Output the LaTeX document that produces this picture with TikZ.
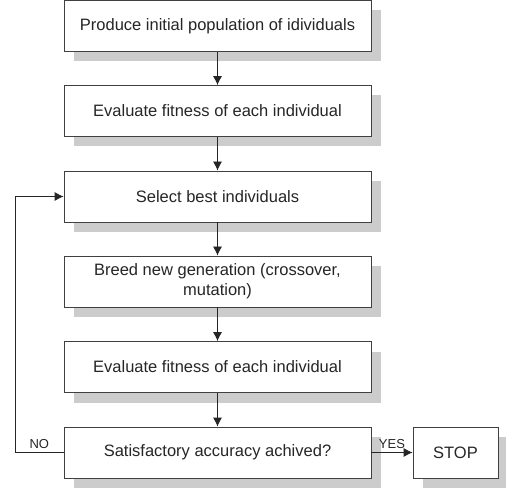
\documentclass[tikz,border=0pt]{standalone}
\usepackage{fontspec}
\setmainfont{Liberation Sans}
\usetikzlibrary{shadows,arrows.meta}

\begin{document}
\begin{tikzpicture}[x=1pt,y=-1pt, >={Latex[length=9pt,width=9pt]},
    stepbox/.style={draw=black!75, line width=0.8pt, fill=white,
        minimum width=307pt, minimum height=51pt, inner sep=0pt,
        align=center, text=black!85, font=\fontsize{16.5}{20}\selectfont,
        drop shadow={shadow xshift=10pt, shadow yshift=-10pt,
            fill=black!20, opacity=1}},
    flow/.style={->, draw=black!85, line width=0.8pt},
    answer/.style={text=black!85, font=\fontsize{13}{15}\selectfont}]
    \useasboundingbox (0,0) rectangle (506,489);
    % main chain of steps
    \node[stepbox] (init) at (217.5,26) {Produce initial population of idividuals};
    \node[stepbox] (eval) at (217.5,111) {Evaluate fitness of each individual};
    \node[stepbox] (select) at (217.5,196.5) {Select best individuals};
    \node[stepbox] (breed) at (217.5,281.5) {Breed new generation (crossover,\\mutation)};
    \node[stepbox] (reeval) at (217.5,367) {Evaluate fitness of each individual};
    \node[stepbox] (check) at (217.5,452.5) {Satisfactory accuracy achived?};
    \node[stepbox, minimum width=85pt] (stop) at (455.5,452.5) {STOP};
    \coordinate (back) at (15,0);

    \draw[flow] (init) -- (eval);
    \draw[flow] (eval) -- (select);
    \draw[flow] (select) -- (breed);
    \draw[flow] (breed) -- (reeval);
    \draw[flow] (reeval) -- (check);
    \draw[flow] (check) -- node[answer, above] {YES} (stop);
    \draw[flow] (check.west) -- node[answer, above] {NO} (check.west -| back)
        |- (select.west);
\end{tikzpicture}
\end{document}
